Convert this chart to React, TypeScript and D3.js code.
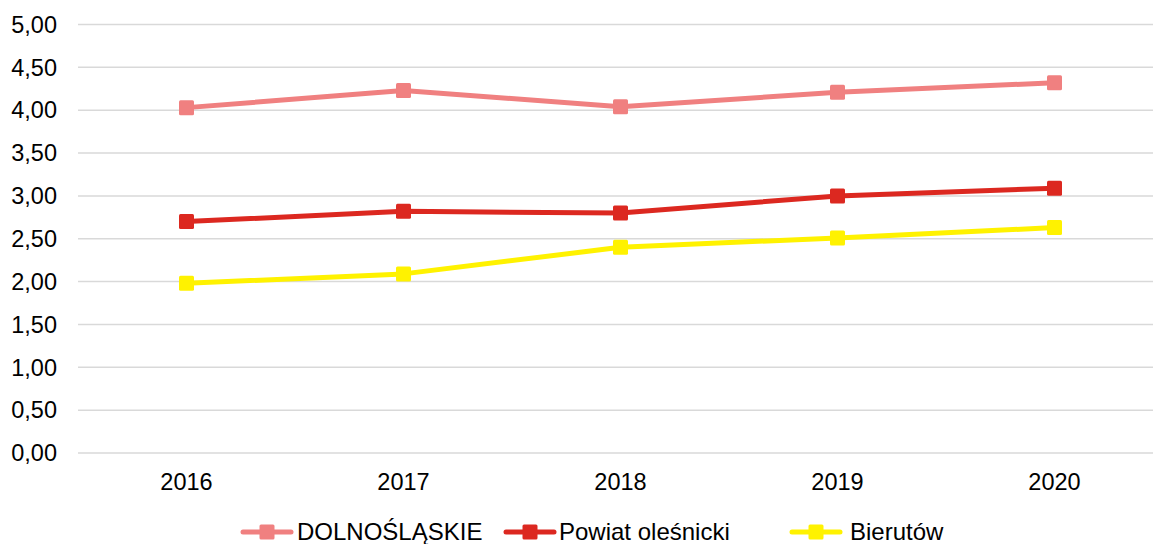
import React from "react";
import * as d3 from "d3";

const years = ["2016", "2017", "2018", "2019", "2020"];
const dolnoslaskie = [4.03, 4.23, 4.04, 4.21, 4.32];
const powiatOlesnicki = [2.70, 2.82, 2.80, 3.00, 3.09];
const bierutow = [1.98, 2.09, 2.40, 2.51, 2.63];
const yTicks = [0, 0.5, 1, 1.5, 2, 2.5, 3, 3.5, 4, 4.5, 5];

const seriesNames = ["DOLNOŚLĄSKIE", "Powiat oleśnicki", "Bierutów"];
const seriesColors = ["#F08080", "#DC2820", "#FFF200"];
const seriesValues = [dolnoslaskie, powiatOlesnicki, bierutow];

const W = 1153;
const H = 544;
const FONT = "'Liberation Sans', Arial, sans-serif";

export default function App() {
  const x = d3.scaleBand<string>().domain(years).range([78, 1163]);
  const y = d3.scaleLinear().domain([0, 5]).range([453, 24.5]);
  const cx = (d: string) => (x(d) as number) + x.bandwidth() / 2;
  const line = d3
    .line<number>()
    .x((_, i) => cx(years[i]))
    .y((v) => y(v));
  const fmt = (v: number) => v.toFixed(2).replace(".", ",");

  const legendItems = [
    { lineX: 241, textX: 297 },
    { lineX: 504, textX: 559 },
    { lineX: 790, textX: 850 },
  ];
  const legendY = 532;
  const ms = 15;

  return (
    <svg
      width={W}
      height={H}
      style={{ position: "absolute", left: 0, top: 0, background: "#fff" }}
      fontFamily={FONT}
    >
      <rect width={W} height={H} fill="#fff" />
      {yTicks.map((t) => (
        <g key={t}>
          <line x1={78} x2={W} y1={y(t)} y2={y(t)} stroke="#d9d9d9" strokeWidth={1.5} />
          <text x={57} y={y(t)} dy="0.35em" textAnchor="end" fontSize={23.5} fill="#000">
            {fmt(t)}
          </text>
        </g>
      ))}
      {years.map((yr) => (
        <text key={yr} x={cx(yr)} y={490} textAnchor="middle" fontSize={23.5} fill="#000">
          {yr}
        </text>
      ))}
      {seriesValues.map((vals, si) => (
        <g key={si}>
          <path d={line(vals) || ""} fill="none" stroke={seriesColors[si]} strokeWidth={5} strokeLinejoin="round" />
          {vals.map((v, i) => (
            <rect
              key={i}
              x={cx(years[i]) - ms / 2}
              y={y(v) - ms / 2}
              width={ms}
              height={ms}
              rx={1.5}
              fill={seriesColors[si]}
            />
          ))}
        </g>
      ))}
      {legendItems.map((it, si) => (
        <g key={si}>
          <line
            x1={it.lineX + 2}
            x2={it.lineX + 50}
            y1={legendY}
            y2={legendY}
            stroke={seriesColors[si]}
            strokeWidth={5}
            strokeLinecap="round"
          />
          <rect
            x={it.lineX + 26 - ms / 2}
            y={legendY - ms / 2}
            width={ms}
            height={ms}
            rx={1.5}
            fill={seriesColors[si]}
          />
          <text x={it.textX} y={legendY} dy="0.35em" fontSize={24} fill="#000">
            {seriesNames[si]}
          </text>
        </g>
      ))}
    </svg>
  );
}
